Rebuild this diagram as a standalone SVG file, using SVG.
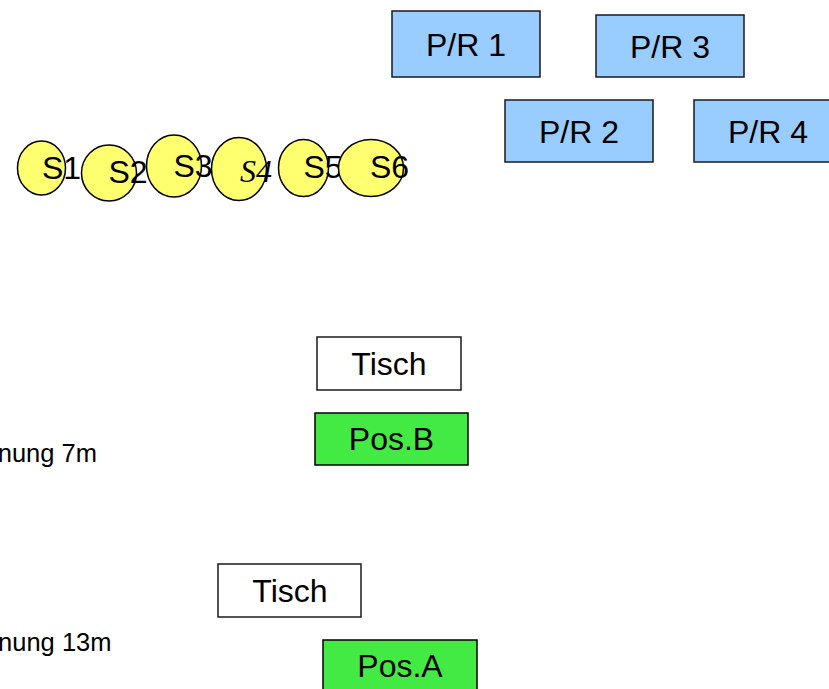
<svg xmlns="http://www.w3.org/2000/svg" width="829" height="689" viewBox="0 0 829 689">
<style>
.s{fill:#FFFF70;stroke:#000;stroke-width:1.5}
.pr{fill:#99CCFF;stroke:#1a1a1a;stroke-width:1.5}
.t{fill:#fff;stroke:#1a1a1a;stroke-width:1.5}
.p{fill:#44EA44;stroke:#000;stroke-width:1.5}
text{font-family:"Liberation Sans",Arial,sans-serif;font-size:32px;fill:#000}
.c{text-anchor:middle}
.sm{font-size:25.5px;text-anchor:end}
.it{font-family:"Liberation Serif","Times New Roman",serif;font-style:italic}
</style>
<rect width="829" height="689" fill="#fff"/>
<g id="connectors"></g>
<g id="PR1"><rect class="pr" x="392" y="11" width="148" height="66"/><text class="c" x="466" y="56">P/R 1</text></g>
<g id="PR3"><rect class="pr" x="596" y="15" width="148" height="62"/><text class="c" x="670" y="58">P/R 3</text></g>
<g id="PR2"><rect class="pr" x="505" y="100" width="148" height="62"/><text class="c" x="579" y="143">P/R 2</text></g>
<g id="PR4"><rect class="pr" x="694" y="100" width="148" height="62"/><text class="c" x="768" y="143">P/R 4</text></g>
<g id="S1"><ellipse class="s" cx="41.5" cy="168" rx="24" ry="27"/><text x="42" y="179">S1</text></g>
<g id="S2"><ellipse class="s" cx="109" cy="173" rx="27.5" ry="28"/><text x="108.5" y="183">S2</text></g>
<g id="S3"><ellipse class="s" cx="174" cy="166" rx="27.5" ry="31"/><text x="173.5" y="177">S3</text></g>
<g id="S4"><ellipse class="s" cx="239" cy="169" rx="27.5" ry="31.5"/><text class="it" x="240" y="182">S4</text></g>
<g id="S5"><ellipse class="s" cx="303.5" cy="168" rx="25" ry="28.5"/><text x="303.5" y="178">S5</text></g>
<g id="S6"><ellipse class="s" cx="371" cy="168" rx="32.5" ry="28.5"/><text x="370" y="178">S6</text></g>
<g id="Tisch1"><rect class="t" x="317" y="337" width="144" height="53"/><text class="c" x="389" y="375">Tisch</text></g>
<g id="PosB"><rect class="p" x="315" y="413" width="153" height="52"/><text class="c" x="391.5" y="450">Pos.B</text></g>
<g id="Tisch2"><rect class="t" x="218" y="564" width="143" height="53"/><text class="c" x="290" y="602">Tisch</text></g>
<g id="PosA"><rect class="p" x="323" y="640" width="154" height="60"/><text class="c" x="400" y="677">Pos.A</text></g>
<g id="labels">
<text class="sm" x="97" y="462">nung 7m</text>
<text class="sm" x="111.5" y="651">nung 13m</text>
</g>
</svg>
